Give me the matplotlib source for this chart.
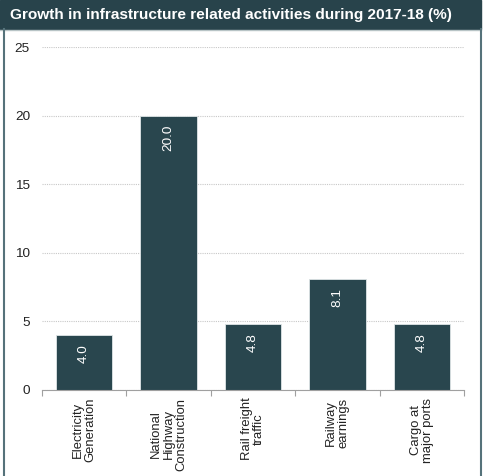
import matplotlib.pyplot as plt
from matplotlib.patches import Rectangle
from matplotlib.lines import Line2D

categories = [
    'Electricity\nGeneration',
    'National\nHighway\nConstruction',
    'Rail freight\ntraffic',
    'Railway\nearnings',
    'Cargo at\nmajor ports',
]
growth = [4.0, 20.0, 4.8, 8.1, 4.8]
y_ticks = [0, 5, 10, 15, 20, 25]
title = 'Growth in infrastructure related activities during 2017-18 (%)'

plt.rcParams['font.family'] = ['Liberation Sans', 'DejaVu Sans']

W, H = 484, 476
fig = plt.figure(figsize=(W / 100, H / 100), dpi=100)
teal = '#29464e'

# header band and panel frame
fig.patches.append(Rectangle((0, 1 - 29 / H), 481 / W, 29 / H,
                             transform=fig.transFigure, color='#28434b', zorder=0))
fig.lines.append(Line2D([0, 481 / W], [1 - 30 / H] * 2, transform=fig.transFigure,
                        color='#b8c4c6', lw=1))
fig.lines.append(Line2D([3.5 / W] * 2, [0, 1 - 29 / H], transform=fig.transFigure,
                        color='#55727a', lw=1.5))
fig.lines.append(Line2D([481 / W] * 2, [0, 1 - 29 / H], transform=fig.transFigure,
                        color='#55727a', lw=1.5))
fig.text(10 / W, 1 - 15 / H, title, color='white', fontsize=11.1,
         fontweight='bold', va='center', ha='left')

ax = fig.add_axes([42 / W, 1 - 390 / H, 422 / W, (390 - 47) / H])
x = list(range(len(categories)))
ax.bar(x, growth, width=0.67, color=teal, edgecolor='#dfe6e7', lw=0.6, zorder=3)
for xi, v in zip(x, growth):
    ax.annotate(f'{v:.1f}', (xi, v), xytext=(0, -6.5), textcoords='offset points',
                rotation=90, ha='center', va='top', color='white', fontsize=9.7,
                zorder=4)

ax.set_xlim(-0.5, len(categories) - 0.5)
ax.set_ylim(0, 25)
ax.set_yticks(y_ticks)
ax.tick_params(axis='y', length=0, pad=8.6, labelsize=9.7, labelcolor='#222222')
ax.yaxis.grid(True, linestyle=(0, (1, 1)), color='#c8c8c8', lw=0.8, zorder=0)
for s in ['top', 'right', 'left']:
    ax.spines[s].set_visible(False)
ax.spines['bottom'].set_color('#a0a0a0')
ax.spines['bottom'].set_zorder(5)

ax.set_xticks([i - 0.5 for i in range(len(categories) + 1)])
ax.set_xticklabels([])
ax.tick_params(axis='x', length=4, color='#a0a0a0', direction='out')
for xi, lab in zip(x, categories):
    ax.annotate(lab, (xi, 0), xytext=(0, -5.5), textcoords='offset points',
                rotation=90, ha='center', va='top', fontsize=9.4, color='#222222',
                multialignment='center', linespacing=1.05)

fig.savefig('out.png', dpi=100, facecolor='white')
